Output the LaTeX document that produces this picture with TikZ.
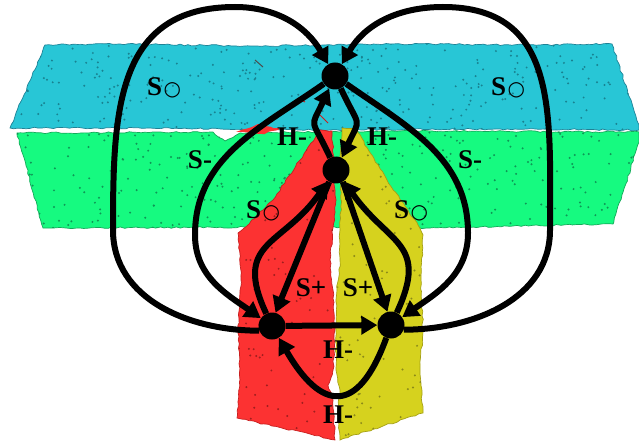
\documentclass[tikz,border=0pt]{standalone}
\usepackage{fontspec}
\setmainfont{Liberation Serif}
\newfontfamily\circfont{DejaVu Sans}
\usetikzlibrary{arrows.meta,decorations.pathmorphing}
\definecolor{bandblue}{RGB}{40,198,214}
\definecolor{dotblue}{RGB}{25,130,145}
\definecolor{edgeblue}{RGB}{30,130,150}
\definecolor{bandgreen}{RGB}{22,250,128}
\definecolor{dotgreen}{RGB}{15,150,85}
\definecolor{edgegreen}{RGB}{20,170,90}
\definecolor{bandred}{RGB}{252,50,50}
\definecolor{dotred}{RGB}{160,30,30}
\definecolor{edgered}{RGB}{200,30,30}
\definecolor{bandyellow}{RGB}{214,210,30}
\definecolor{dotyellow}{RGB}{140,138,25}
\definecolor{edgeyellow}{RGB}{165,160,20}
\newcommand{\ringsym}{\kern1.5pt{\mdseries\circfont\fontsize{20}{20}\selectfont ○}}
\begin{document}
\begin{tikzpicture}[x=1pt,y=1pt,
  dot/.style={circle,fill=black,inner sep=0pt,minimum size=27pt},
  arr/.style={line width=6pt,-{Triangle[length=16pt,width=18pt]}},
  lab/.style={font=\fontsize{27}{27}\selectfont\bfseries,inner sep=0pt},
  rough/.style={decorate,decoration={random steps,segment length=4pt,amplitude=0.8pt}},
  edgeline/.style={line width=0.7pt}]
\useasboundingbox (0,0) rectangle (639,445);
\pgfmathsetseed{7}
% blue band
\def\bluepath{(45,400) -- (120,401) -- (250,399) -- (400,401) -- (540,400) -- (612,401) -- (639,320) -- (639,315) -- (500,316) -- (300,315) -- (150,317) -- (10,317) -- cycle}
\path[rough,fill=bandblue,draw=edgeblue,edgeline] \bluepath;
\begin{scope}
\clip \bluepath;
\foreach \i in {1,...,320}{\pgfmathsetmacro{\xx}{10+630*rnd}\pgfmathsetmacro{\yy}{314+88*rnd}\fill[dotblue] (\xx,\yy) circle[radius=1.1];}
\end{scope}
% green band
\def\greenpath{(17,312) -- (213,313) -- (225,304) -- (240,312) -- (400,314) -- (639,313) -- (639,303) -- (613,221) -- (430,217) -- (300,218) -- (43,217) -- cycle}
\path[rough,fill=bandgreen,draw=edgegreen,edgeline] \greenpath;
\begin{scope}
\clip \greenpath;
\foreach \i in {1,...,320}{\pgfmathsetmacro{\xx}{15+625*rnd}\pgfmathsetmacro{\yy}{215+100*rnd}\fill[dotgreen] (\xx,\yy) circle[radius=1.1];}
\end{scope}
% red strip
\path[rough,fill=bandred] (236,313) -- (258,321) -- (280,316) -- (262,311) -- cycle;
\def\redpath{(320,315) -- (332,314) -- (334,270) -- (336,245) -- (333,217) -- (330,185) -- (333,155) -- (335,115) -- (333,75) -- (328,60) -- (333,45) -- (335,5) -- (237,27) -- (240,65) -- (238,115) -- (241,165) -- (238,212) -- (243,216) -- (273,245) -- cycle}
\path[rough,fill=bandred,draw=edgered,edgeline] \redpath;
\begin{scope}
\clip \redpath;
\foreach \i in {1,...,90}{\pgfmathsetmacro{\xx}{235+102*rnd}\pgfmathsetmacro{\yy}{5+312*rnd}\fill[dotred] (\xx,\yy) circle[radius=1.1];}
\end{scope}
% yellow strip
\def\yellowpath{(342,317) -- (355,317) -- (387,265) -- (418,220) -- (423,210) -- (421,165) -- (423,115) -- (420,75) -- (423,32) -- (340,5) -- (338,35) -- (340,55) -- (336,75) -- (336,115) -- (337,155) -- (340,185) -- (340,215) -- (341,245) -- (340,285) -- cycle}
\path[rough,fill=bandyellow,draw=edgeyellow,edgeline] \yellowpath;
\begin{scope}
\clip \yellowpath;
\foreach \i in {1,...,90}{\pgfmathsetmacro{\xx}{335+90*rnd}\pgfmathsetmacro{\yy}{5+312*rnd}\fill[dotyellow] (\xx,\yy) circle[radius=1.1];}
\end{scope}
% scratches
\draw[line width=1pt,black!70] (255,385) -- (263,378);
\draw[line width=1pt,edgered] (298,347) -- (305,343);
\draw[line width=1pt,edgered] (320,330) -- (328,322);
% nodes
\node[dot] (T) at (335,369) {};
\node[dot] (M) at (336,275) {};
\node[dot] (L) at (272,119) {};
\node[dot] (R) at (391,120) {};
\coordinate (ol1) at (113,215);
\coordinate (ol2) at (235,438);
\coordinate (or1) at (550,215);
\coordinate (or2) at (443,438);
\coordinate (il) at (195,210);
\coordinate (ir) at (468,212);
% connectors
\draw[arr] (L.200) to[out=180,in=-90] (ol1) to[out=90,in=180,looseness=1.2] (ol2) to[out=0,in=120] (T);
\draw[arr] (R.-20) to[out=0,in=-90] (or1) to[out=90,in=0,looseness=1.2] (or2) to[out=180,in=60] (T);
\draw[arr] (T) to[out=215,in=90] (il) to[out=-90,in=145] (L);
\draw[arr] (T) to[out=-35,in=90] (ir) to[out=-90,in=35] (R);
\draw[arr] (M) to[out=115,in=-115,looseness=1.7] (T);
\draw[arr] (T) to[out=-65,in=65,looseness=1.7] (M);
\draw[arr] (M.240) -- (L.75);
\draw[arr] (M.300) -- (R.105);
\draw[arr] (L) to[out=115,in=235,looseness=1.4] (M);
\draw[arr] (R) to[out=65,in=-55,looseness=1.4] (M);
\draw[arr] (L) -- (R);
\draw[arr] (R) to[out=-110,in=-60,looseness=2] (L);
% labels
\node[lab] (so1) at (164,357) {S\ringsym};
\node[lab] (so2) at (508,357) {S\ringsym};
\node[lab] (hm1) at (292,308) {H-};
\node[lab] (hm2) at (382,308) {H-};
\node[lab] (sm1) at (200,285) {S-};
\node[lab] (sm2) at (470,285) {S-};
\node[lab] (so3) at (263,234) {S\ringsym};
\node[lab] (so4) at (411,234) {S\ringsym};
\node[lab] (sp1) at (311,157) {S+};
\node[lab] (sp2) at (358,157) {S+};
\node[lab] (hm3) at (338,95) {H-};
\node[lab] (hm4) at (338,30) {H-};
\end{tikzpicture}
\end{document}
